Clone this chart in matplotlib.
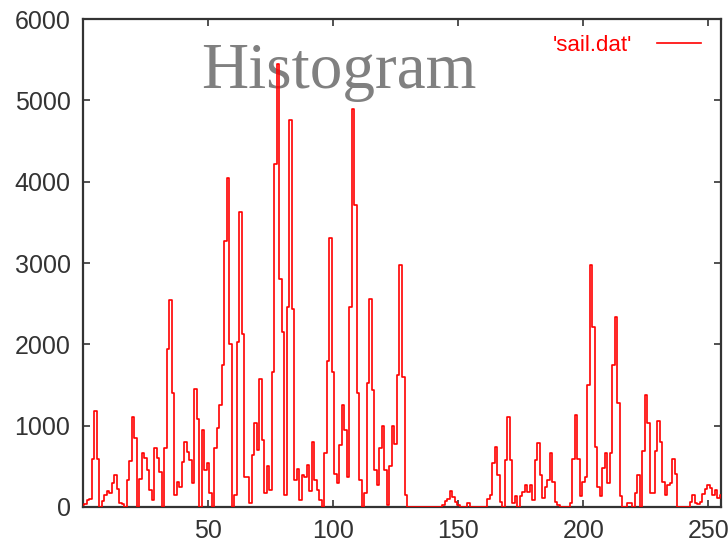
import matplotlib
matplotlib.use("Agg")
import matplotlib.pyplot as plt
import numpy as np

# gray-level histogram of sail.dat (bins 0..255)
COUNTS = [
    20, 40, 90, 100, 590, 1180, 590, 0, 70, 150,                  # 0-9
    200, 170, 290, 390, 220, 50, 40, 0, 330, 570,                 # 10-19
    1110, 850, 0, 350, 660, 600, 460, 210, 80, 730,               # 20-29
    600, 430, 0, 720, 1940, 2550, 1400, 150, 310, 250,            # 30-39
    550, 800, 680, 580, 290, 1450, 1080, 0, 950, 450,             # 40-49
    540, 170, 0, 720, 970, 1250, 1750, 3270, 4040, 2010,          # 50-59
    0, 150, 2030, 3630, 2130, 370, 370, 50, 640, 1030,            # 60-69
    700, 1570, 820, 170, 500, 210, 1660, 4220, 5450, 2800,        # 70-79
    2150, 150, 2460, 4760, 2440, 330, 470, 90, 390, 370,          # 80-89
    520, 200, 800, 330, 210, 90, 0, 660, 1800, 3310,              # 90-99
    1660, 410, 290, 760, 1250, 950, 370, 2460, 4890, 3710,        # 100-109
    1400, 330, 0, 170, 1520, 2560, 1440, 450, 270, 720,           # 110-119
    1000, 450, 25, 500, 1000, 780, 1620, 2980, 1600, 150,         # 120-129
    0, 0, 0, 0, 0, 0, 0, 0, 0, 0,                                 # 130-139
    0, 0, 0, 0, 30, 70, 100, 200, 120, 60,                        # 140-149
    20, 0, 0, 0, 45, 0, 0, 0, 0, 0,                               # 150-159
    0, 0, 100, 150, 540, 740, 390, 60, 0, 580,                    # 160-169
    1110, 580, 45, 130, 0, 130, 190, 270, 190, 270,               # 170-179
    86, 580, 790, 390, 107, 250, 330, 660, 310, 65,               # 180-189
    25, 0, 0, 0, 0, 45, 590, 1130, 590, 130,                      # 190-199
    310, 370, 1500, 2975, 2210, 740, 250, 130, 475, 660,          # 200-209
    300, 660, 1750, 2340, 1275, 130, 0, 0, 45, 45,                # 210-219
    0, 170, 390, 0, 690, 1380, 1030, 170, 170, 690,               # 220-229
    1060, 800, 310, 150, 270, 290, 590, 410, 0, 0,                # 230-239
    0, 0, 0, 65, 150, 50, 40, 60, 155, 220,                       # 240-249
    270, 230, 150, 210, 107, 150,                                 # 250-255
]
BINS = np.arange(len(COUNTS))

X_TICKS = [50, 100, 150, 200, 250]
Y_TICKS = [0, 1000, 2000, 3000, 4000, 5000, 6000]
TITLE = "Histogram"
SERIES_LABEL = "'sail.dat'"

AXIS_COLOR = "#333333"
LINE_COLOR = "#ff0000"
TITLE_COLOR = "#808080"


def main() -> None:
    plt.rcParams["font.family"] = ["Liberation Sans", "DejaVu Sans"]
    fig = plt.figure(figsize=(7.28, 5.47), dpi=100)
    ax = fig.add_axes([83 / 728, 1 - 507 / 547, 638 / 728, 488 / 547])

    # gnuplot-like stepped histogram outline
    ax.plot(BINS, COUNTS, color=LINE_COLOR, lw=1.2, drawstyle="steps-mid",
            label=SERIES_LABEL, zorder=3)

    ax.set_xlim(0, 255)
    ax.set_ylim(0, 6000)
    ax.set_xticks(X_TICKS)
    ax.set_yticks(Y_TICKS)
    ax.tick_params(direction="in", length=5, width=1.2, color=AXIS_COLOR,
                   top=True, right=True, labelsize=18, labelcolor=AXIS_COLOR, pad=9)
    for spine in ax.spines.values():
        spine.set_edgecolor(AXIS_COLOR)
        spine.set_linewidth(1.6)

    ax.text(0.401, 0.859, TITLE, transform=ax.transAxes, ha="center", va="baseline",
            fontsize=47, color=TITLE_COLOR, family=["Liberation Serif", "DejaVu Serif"],
            zorder=1)

    leg = ax.legend(loc="upper right", frameon=False, markerfirst=False, fontsize=16,
                    handlelength=2.0, handletextpad=1.1, borderaxespad=0.3,
                    bbox_to_anchor=(0.993, 1.0))
    for txt in leg.get_texts():
        txt.set_color(LINE_COLOR)

    fig.savefig("out.png", dpi=100)
    plt.close(fig)


if __name__ == "__main__":
    main()
